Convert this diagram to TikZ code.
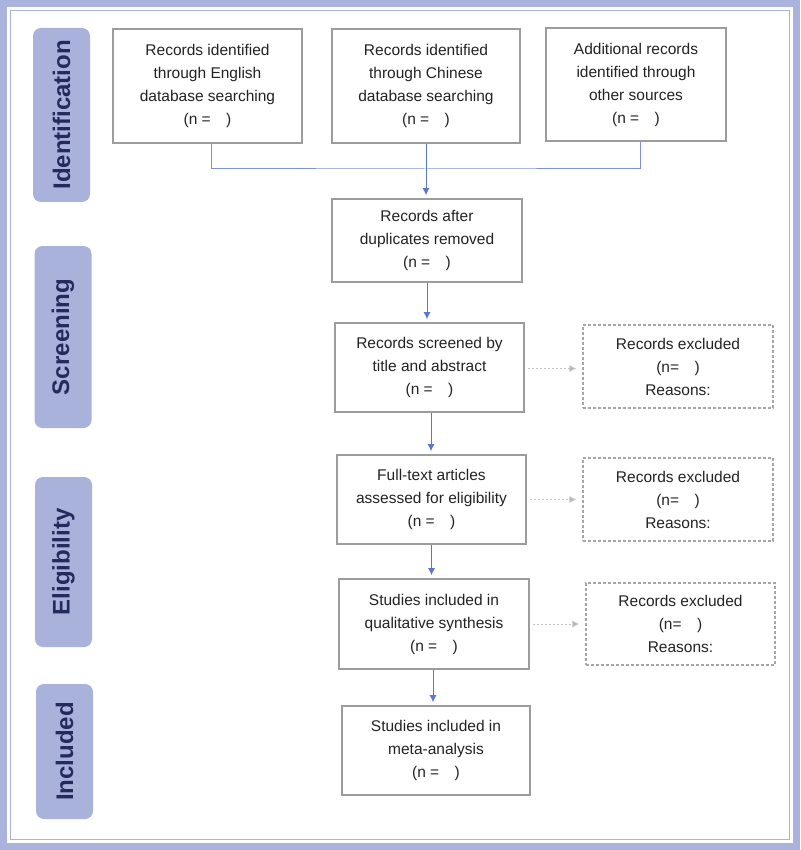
\documentclass[tikz,border=0pt]{standalone}
\usepackage{fontspec}
\setmainfont{Liberation Sans}
\usetikzlibrary{arrows.meta}
\definecolor{bandblue}{HTML}{A9B3DE}
\definecolor{phaseblue}{HTML}{A8B2DA}
\definecolor{phasetext}{HTML}{252A5C}
\definecolor{boxgray}{HTML}{9C9C9C}
\definecolor{dashgray}{HTML}{A6A6A6}
\definecolor{textgray}{HTML}{232323}
\definecolor{flowblue}{HTML}{5C76CD}
\definecolor{dotgray}{HTML}{C4C4C4}
\begin{document}
\begin{tikzpicture}[x=1pt,y=-1pt]

      \tikzset{record/.style={draw=boxgray, line width=1.6pt, fill=white, align=center, inner sep=0pt,
                 text=textgray, font=\fontsize{15.5}{23}\selectfont},
               excluded/.style={record, draw=dashgray, line width=1.1pt, dash pattern=on 3pt off 2pt},
               phase/.style={fill=phaseblue, rounded corners=8pt, rotate=90, inner sep=0pt,
                 text=phasetext, font=\bfseries\fontsize{24}{28}\selectfont, minimum height=57pt},
               flow/.style={draw=flowblue, line width=1pt, -{Latex[length=7pt,width=7pt]}, shorten >=3pt},
               link/.style={draw=flowblue!80, line width=1pt},
               aside/.style={draw=dotgray, line width=1pt, dash pattern=on 2pt off 2pt,
                 -{Latex[length=7pt,width=7pt,fill=dotgray!90!black]}, shorten <=3pt, shorten >=6pt}}
%% Frame
      \useasboundingbox (0,0) rectangle (800,850);
      \fill[bandblue] (0,0) rectangle (800,850);
      \fill[white] (7,7) rectangle (793,843);
      \draw[bandblue, line width=1.5pt] (10.5,10.5) rectangle (789.5,839.5);
%% Phases
      \node[phase, minimum width=174pt] (identification) at (61.5,115) {Identification};
      \node[phase, minimum width=182pt] (screening) at (63,337) {Screening};
      \node[phase, minimum width=170pt] (eligibility) at (63.5,562) {Eligibility};
      \node[phase, minimum width=135pt] (included) at (64.5,751.5) {Included};
%% Records
      \node[record, minimum width=189pt, minimum height=114pt] (english) at (207.5,86) {Records identified\\through English\\database searching\\(n =\hspace{1em})};
      \node[record, minimum width=188pt, minimum height=114pt] (chinese) at (426,86) {Records identified\\through Chinese\\database searching\\(n =\hspace{1em})};
      \node[record, minimum width=180pt, minimum height=113pt] (additional) at (636,84.5) {Additional records\\identified through\\other sources\\(n =\hspace{1em})};
      \node[record, minimum width=190pt, minimum height=83pt] (duplicates) at (427,240.5) {Records after\\duplicates removed\\(n =\hspace{1em})};
      \node[record, minimum width=189pt, minimum height=89pt] (screened) at (429.5,367.5) {Records screened by\\title and abstract\\(n =\hspace{1em})};
      \node[record, minimum width=189pt, minimum height=89pt] (fulltext) at (431.5,499.5) {Full-text articles\\assessed for eligibility\\(n =\hspace{1em})};
      \node[record, minimum width=190pt, minimum height=90pt] (qualitative) at (434,624) {Studies included in\\qualitative synthesis\\(n =\hspace{1em})};
      \node[record, minimum width=188pt, minimum height=89pt] (meta) at (436,750.5) {Studies included in\\meta-analysis\\(n =\hspace{1em})};
%% Excluded
      \node[excluded, minimum width=190pt, minimum height=83pt] (excludedA) at (678,366.5) {Records excluded\\(n=\hspace{1em})\\Reasons:};
      \node[excluded, minimum width=190pt, minimum height=83pt] (excludedB) at (678,499.5) {Records excluded\\(n=\hspace{1em})\\Reasons:};
      \node[excluded, minimum width=189pt, minimum height=82pt] (excludedC) at (680.5,624) {Records excluded\\(n=\hspace{1em})\\Reasons:};
%Edges
      \coordinate (join) at (426,169);
      \draw[link] ([xshift=4pt]english.south) |- (join) -| ([xshift=4pt]additional.south);
      \draw[flow] (chinese.south) -- (chinese.south |- duplicates.north);
      \draw[flow] (duplicates.south) -- (duplicates.south |- screened.north);
      \draw[flow] ([xshift=1.5pt]screened.south) -- ([xshift=1.5pt]screened.south |- fulltext.north);
      \draw[flow] (fulltext.south) -- (fulltext.south |- qualitative.north);
      \draw[flow] ([xshift=-1pt]qualitative.south) -- ([xshift=-1pt]qualitative.south |- meta.north);
      \draw[aside] ([yshift=-1pt]screened.east) -- ([yshift=-1pt]screened.east -| excludedA.west);
      \draw[aside] (fulltext.east) -- (fulltext.east -| excludedB.west);
      \draw[aside] (qualitative.east) -- (qualitative.east -| excludedC.west);

\end{tikzpicture}
\end{document}
